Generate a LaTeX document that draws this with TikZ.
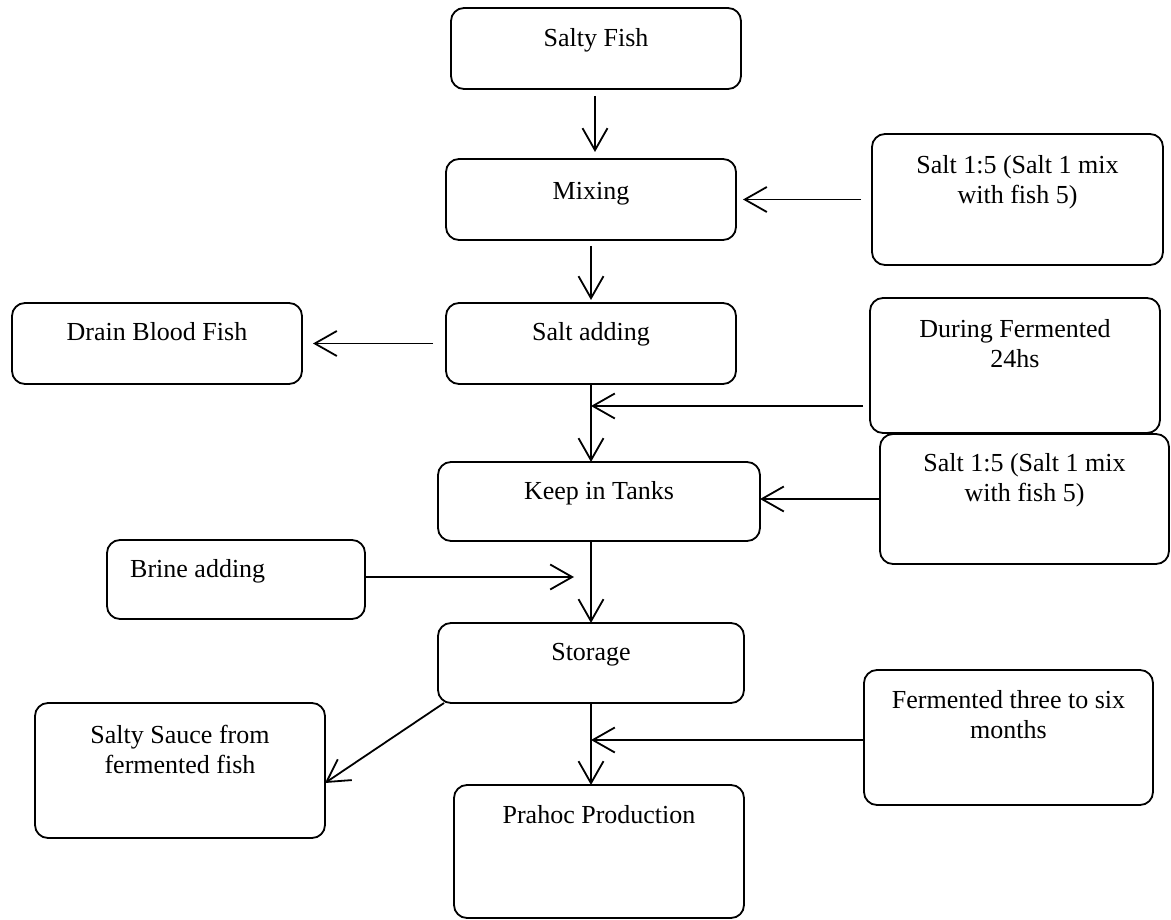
\documentclass[tikz,border=0pt]{standalone}
\usepackage{fontspec}
\setmainfont{Liberation Serif}
\usetikzlibrary{arrows.meta,calc}
\tikzset{
  box/.style={draw=black, line width=1.8pt, rounded corners=13pt, inner sep=0pt, outer sep=0pt, anchor=north west},
  txt/.style={font=\fontsize{26}{30}\selectfont, align=center, inner sep=0pt, anchor=north},
  ltxt/.style={font=\fontsize{26}{30}\selectfont, align=left, inner sep=0pt, anchor=north west},
  conn/.style={line width=1.8pt, -{Straight Barb[length=22pt,width=25pt,line width=1.8pt]}},
}
\newcommand{\mkbox}[5]{\node[box, minimum width=#4-#2, minimum height=#5-#3] (#1) at (#2,#3) {};}
\begin{document}
\begin{tikzpicture}[x=1pt,y=-1pt]
\useasboundingbox (0,0) rectangle (1171,920);
% boxes
\mkbox{sf}{451}{8}{741}{89}
\mkbox{mix}{446}{159}{736}{240}
\mkbox{sa}{872}{134}{1163}{265}
\mkbox{drain}{12}{303}{302}{384}
\mkbox{sadd}{446}{303}{736}{384}
\mkbox{dur}{870}{298}{1160}{433}
\mkbox{sb}{880}{434}{1169}{564}
\mkbox{keep}{438}{462}{760}{541}
\mkbox{brine}{107}{540}{365}{619}
\mkbox{stor}{438}{623}{744}{703}
\mkbox{sauce}{35}{703}{325}{838}
\mkbox{ferm}{864}{670}{1153}{805}
\mkbox{prahoc}{454}{785}{744}{918}
% texts
\node[txt] (tsf) at ([yshift=-17pt]sf.north) {\strut Salty Fish};
\node[txt] (tmix) at ([yshift=-19pt]mix.north) {\strut Mixing};
\node[txt] (tsa) at ([yshift=-18pt]sa.north) {\strut Salt 1:5 (Salt 1 mix\\with fish 5)};
\node[txt] (tdrain) at ([yshift=-16pt]drain.north) {\strut Drain Blood Fish};
\node[txt] (tsadd) at ([yshift=-16pt]sadd.north) {\strut Salt adding};
\node[txt] (tdur) at ([yshift=-18pt]dur.north) {\strut During Fermented\\24hs};
\node[txt] (tsb) at ([yshift=-16pt]sb.north) {\strut Salt 1:5 (Salt 1 mix\\with fish 5)};
\node[txt] (tkeep) at ([yshift=-16pt]keep.north) {\strut Keep in Tanks};
\node[ltxt] (tbrine) at ([xshift=23pt,yshift=-16pt]brine.north west) {\strut Brine adding};
\node[txt] (tstor) at ([yshift=-16pt]stor.north) {\strut Storage};
\node[txt] (tsauce) at ([yshift=-19pt]sauce.north) {\strut Salty Sauce from\\fermented fish};
\node[txt] (tferm) at ([yshift=-17pt]ferm.north) {\strut Fermented three to six\\months};
\node[txt] (tprahoc) at ([yshift=-17pt]prahoc.north) {\strut Prahoc Production};
% junction points
\coordinate (c1) at (591,406);
\coordinate (c2) at (574,577);
\coordinate (c3) at (591,740);
% connectors
\draw[conn, shorten <=7pt, shorten >=7pt] ([xshift=-1pt]sf.south) -- ([xshift=-1pt]sf.south |- mix.north);
\draw[conn, shorten <=11pt, shorten >=7pt] (sa.west) -- (mix.east);
\draw[conn, shorten <=6pt, shorten >=3pt] (mix.south) -- (sadd.north);
\draw[conn, shorten <=13pt, shorten >=11pt] (sadd.west) -- (drain.east);
\draw[conn] (sadd.south) -- (sadd.south |- keep.north);
\draw[conn, shorten <=7pt] (dur.west |- c1) -- (c1);
\draw[conn] (sb.west) -- (sb.west -| keep.east);
\draw[conn] (stor.north |- keep.south) -- (stor.north);
\draw[conn] (brine.east |- c2) -- (c2);
\draw[conn] ([xshift=6pt]stor.south west) -- ([yshift=-12.5pt]sauce.east);
\draw[conn] (stor.south) -- (stor.south |- prahoc.north);
\draw[conn] (ferm.west |- c3) -- (c3);
\end{tikzpicture}
\end{document}
